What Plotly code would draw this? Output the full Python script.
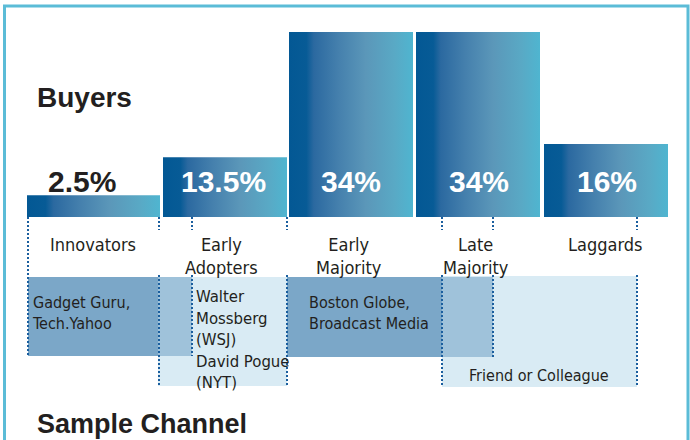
import plotly.graph_objects as go

# ---------------- data ----------------
segments = ["Innovators", "Early<br>Adopters", "Early<br>Majority", "Late<br>Majority", "Laggards"]
share_labels = ["2.5%", "13.5%", "34%", "34%", "16%"]
# bar heights as drawn in the picture (same units as the percentages, 34 = tallest)
bar_heights = [4.0, 11.0, 34.0, 34.0, 13.4]
label_colors = ["#231f20", "white", "white", "white", "white"]

channel_texts = [
    "Gadget Guru,<br>Tech.Yahoo",
    "Walter<br>Mossberg<br>(WSJ)<br>David Pogue<br>(NYT)",
    "Boston Globe,<br>Broadcast Media",
    "Friend or Colleague",
]

# ---------------- layout geometry (pixels) ----------------
W, H = 690, 440
BASE_PX = 217          # bar baseline
FULL_PX = 185          # pixel height of 34 units
bar_left = [27, 163, 289, 416, 544]
bar_right = [160, 287, 413, 540, 668]

def py(p):
    return 1 - p / H

NARROW = "'Liberation Sans Narrow', 'Arial Narrow', 'DejaVu Sans Condensed', sans-serif"
BOLD = "'Liberation Sans', Arial, sans-serif"
TXT = "#231f20"
DOT = "#1a5e9e"

grad = [[0.0, "#035894"], [0.14, "#075b96"], [0.2, "#2b69a0"],
        [0.4, "#4580ad"], [0.62, "#5b97b9"], [0.85, "#59a9c5"], [1.0, "#4fb5d0"]]

fig = go.Figure()
for i, h in enumerate(bar_heights):
    l, r = bar_left[i], bar_right[i]
    fig.add_trace(go.Scatter(
        x=[l, r, r, l, l], y=[0, 0, h, h, 0],
        mode="lines", line=dict(width=0), fill="toself",
        fillgradient=dict(type="horizontal", colorscale=grad),
        hoverinfo="skip", showlegend=False))

annotations = []
# percentage labels
label_shift = [-12, -2, 0, 1, 1]
for i, t in enumerate(share_labels):
    cx = (bar_left[i] + bar_right[i]) / 2
    annotations.append(dict(x=cx, y=py(181), xref="x", yref="paper", text=t,
                            showarrow=False, xshift=label_shift[i], yanchor="middle",
                            font=dict(family=BOLD, size=30, color=label_colors[i], weight="bold")))
# segment names
seg_x = [93, 221, 349, 476, 605]
for i, s in enumerate(segments):
    annotations.append(dict(x=seg_x[i], y=py(232), xref="x", yref="paper", text=s,
                            showarrow=False, yanchor="top", align="center",
                            font=dict(family=NARROW, size=18, color=TXT)))

# channel boxes
boxes = [  # x0, x1, y0, y1, color
    (158, 287, 277, 386, "#d9ebf4"),
    (442, 637, 276, 387, "#d9ebf4"),
    (28, 158, 277, 356, "#7ba7c8"),
    (158, 192, 277, 356, "#9fc2da"),
    (287, 442, 277, 357, "#7ba7c8"),
    (442, 493, 277, 357, "#9fc2da"),
]
shapes = []
for x0, x1, y0, y1, c in boxes:
    shapes.append(dict(type="rect", xref="x", yref="paper", x0=x0, x1=x1,
                       y0=py(y1), y1=py(y0), fillcolor=c, line=dict(width=0), layer="below"))

# dotted guides
dots = [
    (28, 217, 356),
    (159, 217, 230), (159, 275, 386),
    (192, 217, 230), (192, 275, 356),
    (287, 217, 230), (287, 275, 386),
    (442, 217, 230), (442, 275, 387),
    (493, 217, 230), (493, 275, 358),
    (637, 217, 230), (637, 275, 387),
]
for x, y0, y1 in dots:
    shapes.append(dict(type="line", xref="x", yref="paper", x0=x, x1=x,
                       y0=py(y0), y1=py(y1), line=dict(color=DOT, width=2, dash="2px,2px")))

# frame
shapes.append(dict(type="rect", xref="paper", yref="paper", x0=4.5 / W, x1=688 / W,
                   y0=py(460), y1=py(6), line=dict(color="#5bbcd7", width=3),
                   fillcolor="rgba(0,0,0,0)"))

# channel texts
chan_pos = [(30, 313, "left", 16), (194, 339, "left", 16.6), (307, 313, "left", 16),
            (539, 375, "center", 16)]
for t, (x, y, al, fs) in zip(channel_texts, chan_pos):
    annotations.append(dict(x=x, y=py(y), xref="x", yref="paper", text=t, showarrow=False,
                            xanchor="left" if al == "left" else "center", yanchor="middle",
                            align=al, font=dict(family=NARROW, size=fs, color=TXT)))

# headings
annotations.append(dict(x=35, y=py(97), xref="x", yref="paper", text="Buyers", showarrow=False,
                        xanchor="left", yanchor="middle",
                        font=dict(family=BOLD, size=28, color=TXT, weight="bold")))
annotations.append(dict(x=35, y=py(424), xref="x", yref="paper", text="Sample Channel",
                        showarrow=False, xanchor="left", yanchor="middle",
                        font=dict(family=BOLD, size=27, color=TXT, weight="bold")))

fig.update_layout(
    width=W, height=H, margin=dict(l=0, r=0, t=0, b=0),
    paper_bgcolor="white", plot_bgcolor="white",
    xaxis=dict(range=[0, W], visible=False, fixedrange=True),
    yaxis=dict(range=[0, 34 * BASE_PX / FULL_PX], domain=[py(BASE_PX), 1],
               visible=False, fixedrange=True),
    shapes=shapes, annotations=annotations, showlegend=False,
)

fig.write_html("out.html", config={"displayModeBar": False},
               post_script="document.body.style.margin='0';document.body.style.overflow='hidden';")
